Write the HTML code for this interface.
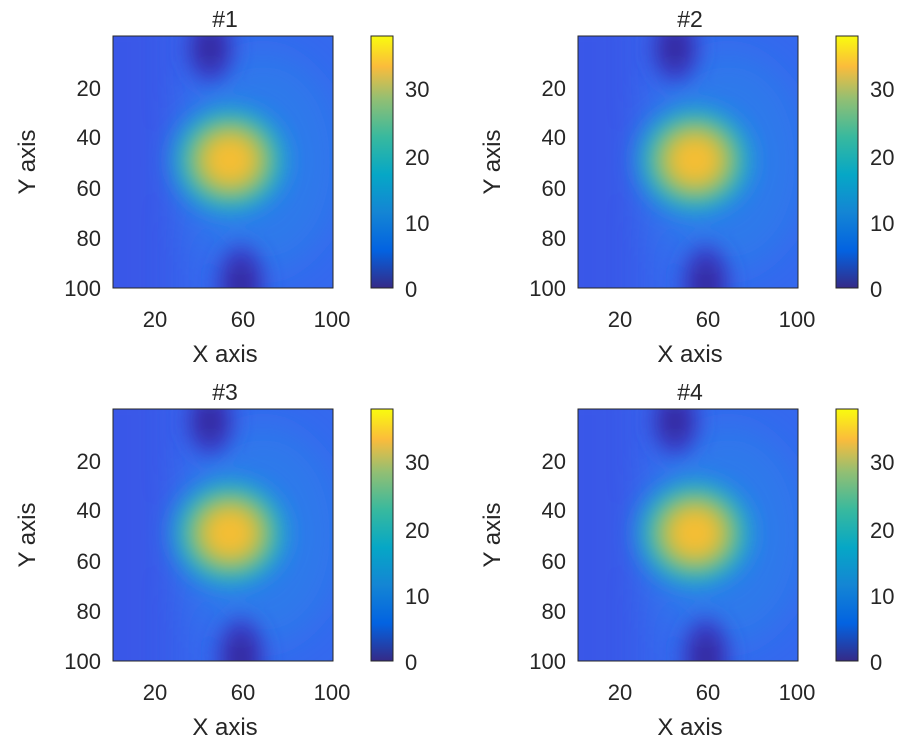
<!DOCTYPE html>
<html><head><meta charset="utf-8"><style>
body{margin:0;background:#fff;}
svg text{font-family:"Liberation Sans",sans-serif;fill:#262626;}
</style></head><body>
<svg width="899" height="744" viewBox="0 0 899 744" xmlns="http://www.w3.org/2000/svg">
<defs>
<filter id="b" x="-30%" y="-30%" width="160%" height="160%"><feGaussianBlur stdDeviation="9"/></filter>
<filter id="b2" x="-30%" y="-30%" width="160%" height="160%"><feGaussianBlur stdDeviation="20"/></filter>
<radialGradient id="hot" cx="0.5" cy="0.5" r="0.5">
<stop offset="0" stop-color="#fbc232"/>
<stop offset="0.3" stop-color="#efbb36"/>
<stop offset="0.5" stop-color="#7cc25a"/>
<stop offset="0.7" stop-color="#20b2c2"/>
<stop offset="1" stop-color="#1e9ae0" stop-opacity="0"/>
</radialGradient>
<radialGradient id="dark" cx="0.5" cy="0.5" r="0.5">
<stop offset="0" stop-color="#33278e"/>
<stop offset="0.6" stop-color="#3836c0"/>
<stop offset="1" stop-color="#3b4fe0" stop-opacity="0"/>
</radialGradient>
<linearGradient id="cb" x1="0" y1="1" x2="0" y2="0">
<stop offset="0" stop-color="#352a87"/>
<stop offset="0.15" stop-color="#0363e1"/>
<stop offset="0.3" stop-color="#1485d4"/>
<stop offset="0.45" stop-color="#06a7c6"/>
<stop offset="0.6" stop-color="#38b99e"/>
<stop offset="0.75" stop-color="#92bf73"/>
<stop offset="0.88" stop-color="#fbbc3b"/>
<stop offset="1" stop-color="#f9fb0e"/>
</linearGradient>
<clipPath id="c"><rect x="0" y="0" width="220" height="252"/></clipPath>
<g id="map">
<g clip-path="url(#c)">
<rect x="0" y="0" width="220" height="252" fill="#3568ee"/>
<g filter="url(#b2)">
<rect x="-40" y="-40" width="100" height="340" fill="#3d4de4" opacity="0.6"/>
<ellipse cx="150" cy="126" rx="80" ry="110" fill="#2590e6" opacity="0.45"/>
</g>
<g filter="url(#b)">
<ellipse cx="97" cy="12" rx="30" ry="42" fill="url(#dark)"/>
<ellipse cx="128" cy="248" rx="30" ry="48" fill="url(#dark)"/>
<ellipse cx="117" cy="124" rx="68" ry="64" fill="url(#hot)"/>
</g>
</g>
<rect x="0" y="0" width="220" height="252" fill="none" stroke="#262626" stroke-width="1"/>
</g>
<g id="axes">
<use href="#map"/>
<rect x="258" y="0" width="22" height="252" fill="url(#cb)" stroke="#262626" stroke-width="1"/>
<g text-anchor="end" style="font-size:22px">
<text x="-12" y="60">20</text>
<text x="-12" y="109">40</text>
<text x="-12" y="160">60</text>
<text x="-12" y="210">80</text>
<text x="-12" y="260">100</text>
</g>
<g text-anchor="middle" style="font-size:22px">
<text x="42" y="291">20</text>
<text x="130" y="291">60</text>
<text x="219" y="291">100</text>
</g>
<text x="112" y="326" text-anchor="middle" style="font-size:24px">X axis</text>
<g style="font-size:22px">
<text x="292" y="61">30</text>
<text x="292" y="129">20</text>
<text x="292" y="195">10</text>
<text x="292" y="261">0</text>
</g>
<text transform="translate(-78,126) rotate(-90)" text-anchor="middle" style="font-size:24px">Y axis</text>
</g>
</defs>
<use href="#axes" x="113" y="36"/>
<use href="#axes" x="578" y="36"/>
<use href="#axes" x="113" y="409"/>
<use href="#axes" x="578" y="409"/>
<g text-anchor="middle" style="font-size:23px">
<text x="225" y="27">#1</text>
<text x="690" y="27">#2</text>
<text x="225" y="400">#3</text>
<text x="690" y="400">#4</text>
</g>
</svg>
</body></html>
